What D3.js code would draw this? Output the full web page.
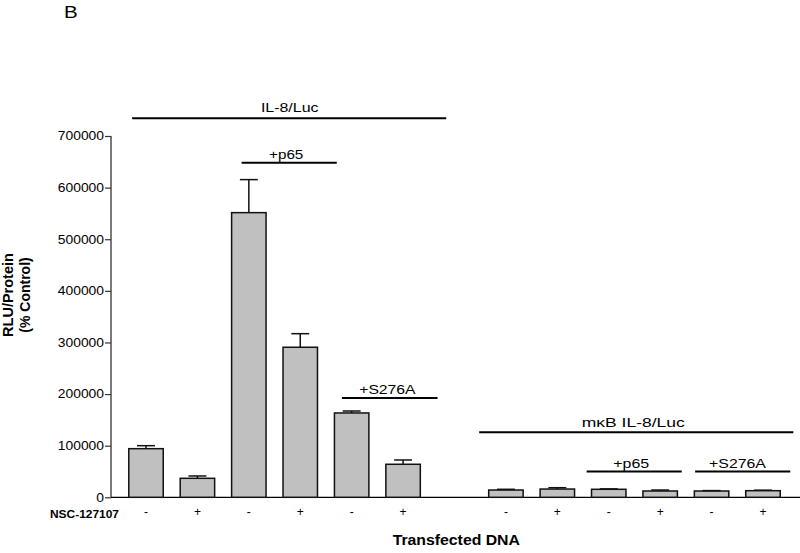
<!DOCTYPE html>
<html>
<head>
<meta charset="utf-8">
<script src="https://cdn.jsdelivr.net/npm/d3@7"></script>
<style>
  html, body { margin: 0; padding: 0; background: #fff; }
  svg { display: block; font-family: "Liberation Sans", Arial, Helvetica, sans-serif; }
</style>
</head>
<body>
<svg id="chart" width="800" height="553"></svg>
<script>
// ---------------- data ----------------
const slots = ["a1","a2","a3","a4","a5","a6","gap","b1","b2","b3","b4","b5","b6"];
const nscLabels = ["-","+","-","+","-","+"];
const il8Values = [94200, 36800, 551500, 290700, 163400, 64000];
const il8Errors = [5800, 4500, 64000, 26300, 3800, 8300];
const mkbValues = [14100, 16000, 15500, 12200, 12200, 12800];
const mkbErrors = [1400, 2600, 800, 1900, 800, 1000];
const yTicks = [0, 100000, 200000, 300000, 400000, 500000, 600000, 700000];

const bars = [];
il8Values.forEach((v, i) => bars.push({slot: slots[i], value: v, err: il8Errors[i], nsc: nscLabels[i]}));
mkbValues.forEach((v, i) => bars.push({slot: slots[i + 7], value: v, err: mkbErrors[i], nsc: nscLabels[i]}));

// ---------------- layout ----------------
const svg = d3.select("#chart");
const y = d3.scaleLinear().domain([0, 700000]).range([497.3, 136]);
const x = d3.scaleBand().domain(slots).range([120.3, 788.7]).paddingInner(0.33).paddingOuter(0.165);
const step = x.step();
const cx = i => x(slots[i]) + x.bandwidth() / 2;

function label(px, py, text, size, weight, width, anchor) {
  const t = svg.append("text")
    .attr("x", px).attr("y", py)
    .attr("font-size", size)
    .attr("font-weight", weight || "normal")
    .attr("text-anchor", anchor || "middle")
    .attr("fill", "#000")
    .text(text);
  if (width) t.attr("textLength", width).attr("lengthAdjust", "spacingAndGlyphs");
  return t;
}

// Y axis
const yAxis = svg.append("g").attr("transform", "translate(111,0)")
  .call(d3.axisLeft(y).tickValues(yTicks).tickFormat(d3.format("d")).tickSize(6).tickPadding(1));
yAxis.select(".domain").attr("stroke", "#7a7a7a").attr("stroke-width", 2).attr("d", `M0,${y(700000)}V${y(0)}`);
yAxis.selectAll(".tick line").attr("stroke", "#333").attr("stroke-width", 1.2);
yAxis.selectAll(".tick text")
  .attr("font-size", 12)
  .attr("fill", "#000")
  .attr("font-family", "'Liberation Sans', Arial, sans-serif")
  .attr("x", -7)
  .each(function (d) {
    const s = String(d);
    d3.select(this).attr("textLength", 7.7 * s.length).attr("lengthAdjust", "spacingAndGlyphs");
  });

// X axis line
svg.append("line").attr("x1", 111).attr("x2", 800).attr("y1", y(0)).attr("y2", y(0))
  .attr("stroke", "#000").attr("stroke-width", 1.2);

// Bars
svg.append("g").selectAll("rect").data(bars).join("rect")
  .attr("x", d => x(d.slot))
  .attr("y", d => y(d.value))
  .attr("width", x.bandwidth())
  .attr("height", d => y(0) - y(d.value))
  .attr("fill", "#c0c0c0")
  .attr("stroke", "#111")
  .attr("stroke-width", 1.5);

// Error bars (upward only)
const eg = svg.append("g").attr("stroke", "#111").attr("stroke-width", 1.5);
eg.selectAll("line.v").data(bars).join("line").attr("class", "v")
  .attr("x1", d => x(d.slot) + x.bandwidth() / 2)
  .attr("x2", d => x(d.slot) + x.bandwidth() / 2)
  .attr("y1", d => y(d.value))
  .attr("y2", d => y(d.value + d.err));
eg.selectAll("line.c").data(bars).join("line").attr("class", "c")
  .attr("x1", d => x(d.slot) + x.bandwidth() * 0.24)
  .attr("x2", d => x(d.slot) + x.bandwidth() * 0.76)
  .attr("y1", d => y(d.value + d.err))
  .attr("y2", d => y(d.value + d.err));

// NSC +/- labels
svg.append("g").selectAll("text").data(bars).join("text")
  .attr("x", d => x(d.slot) + x.bandwidth() / 2)
  .attr("y", 515.5)
  .attr("text-anchor", "middle")
  .attr("font-size", 12)
  .text(d => d.nsc);

// Bracket annotations
const brackets = [
  {text: "IL-8/Luc",     i0: 0, a: -0.27, i1: 5,  b: 0.84, ly: 118.3, ty: 111.5, dx: 0.5,  size: 13.5, w: 57.6},
  {text: "+p65",         i0: 2, a: -0.14, i1: 3,  b: 0.71, ly: 162.7, ty: 159,   dx: -3,   size: 13,   w: 34.3},
  {text: "+S276A",       i0: 4, a: -0.19, i1: 5,  b: 0.67, ly: 398,   ty: 394,   dx: -2.3, size: 13.3, w: 56.4},
  {text: "m\u03BAB IL-8/Luc", i0: 7, a: -0.52, i1: 12, b: 0.59, ly: 432.3, ty: 426.7, dx: -3, size: 13.5, w: 103},
  {text: "+p65",         i0: 9, a: -0.43, i1: 10, b: 0.42, ly: 471.5, ty: 468.3, dx: -2.9, size: 13,   w: 36},
  {text: "+S276A",       i0: 11, a: -0.32, i1: 12, b: 0.53, ly: 471.5, ty: 468.3, dx: -5.2, size: 13.3, w: 56.7}
];
brackets.forEach(bk => {
  const x1 = cx(bk.i0) + bk.a * step;
  const x2 = cx(bk.i1) + bk.b * step;
  svg.append("line").attr("x1", x1).attr("x2", x2).attr("y1", bk.ly).attr("y2", bk.ly)
    .attr("stroke", "#000").attr("stroke-width", 2);
  label((x1 + x2) / 2 + bk.dx, bk.ty, bk.text, bk.size, "normal", bk.w);
});

// Panel letter
label(64, 17.5, "B", 17, "normal", 13.7, "start");

// Axis titles
label(50, 518, "NSC-127107", 10.5, "bold", 69, "start");
label(456.3, 545, "Transfected DNA", 14, "bold", 127.3);
svg.append("text").attr("transform", "translate(13,295) rotate(-90)")
  .attr("text-anchor", "middle").attr("font-size", 14.5).attr("font-weight", "bold").text("RLU/Protein");
svg.append("text").attr("transform", "translate(29.5,295) rotate(-90)")
  .attr("text-anchor", "middle").attr("font-size", 14).attr("font-weight", "bold").text("(% Control)");
</script>
</body>
</html>
